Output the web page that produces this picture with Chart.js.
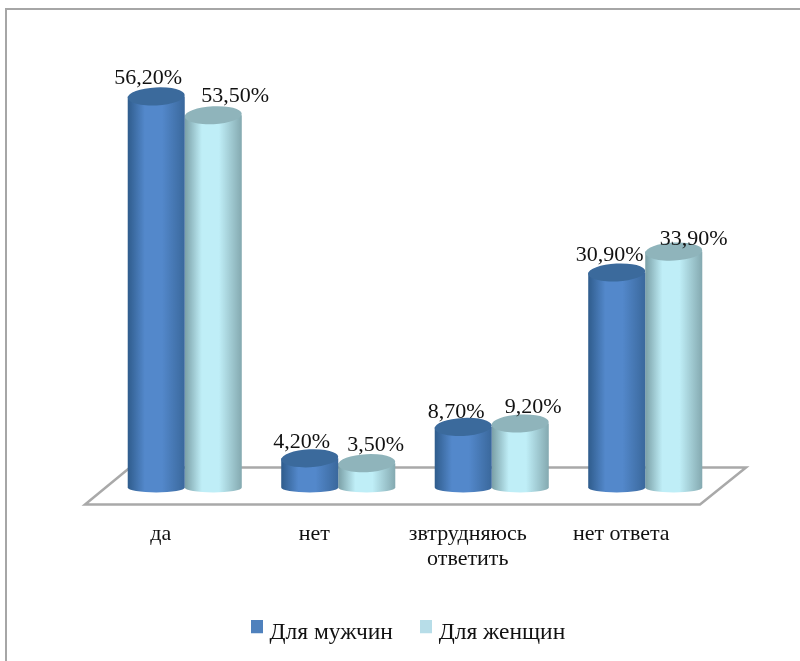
<!DOCTYPE html>
<html>
<head>
<meta charset="utf-8">
<style>
  html, body { margin: 0; padding: 0; background: #fff; }
  #wrap { width: 800px; height: 661px; position: relative; }
</style>
<script src="https://cdn.jsdelivr.net/npm/chart.js@4"></script>
</head>
<body>
<div id="wrap"><canvas id="chart" width="800" height="661"></canvas></div>
<script>
const categories = ["да", "нет", ["звтрудняюсь", "ответить"], "нет ответа"];
const men = [56.2, 4.2, 8.7, 30.9];
const women = [53.5, 3.5, 9.2, 33.9];
const seriesNames = ["Для мужчин", "Для женщин"];
const seriesColours = ["#4f81bd", "#b7dde8"];

// little nudges of the value labels, the original has them dragged by hand
const menLabelShift = [[-8, -18], [-8, -16], [-7, -15], [-7, -17]];
const womenLabelShift = [[22, -19], [9, -18], [13, -16], [20, -12]];

const fontName = "'Liberation Serif', 'Times New Roman', serif";

// colours of the cylinders: edge, middle, edge, top
const cylinderColours = [
  ["#2f5c8c", "#5388cb", "#3a689c", "#3b6a9c"],
  ["#7a9fa6", "#bfeef7", "#84a9b0", "#8fb4bb"],
];

// legend square sits higher than the text middle, so it gets its own little canvas
function legendMark(colour) {
  const c = document.createElement("canvas");
  c.width = 12;
  c.height = 26;
  const g = c.getContext("2d");
  g.fillStyle = colour;
  g.fillRect(0, 0, 12, 13);
  return c;
}
const legendMarks = seriesColours.map(legendMark);

function drawCylinder(ctx, bar, colours) {
  const left = bar.x - bar.width / 2;
  const right = bar.x + bar.width / 2;
  const rx = bar.width / 2;
  const topRy = 9;
  const bottomRy = 5;

  const grad = ctx.createLinearGradient(left, 0, right, 0);
  grad.addColorStop(0, colours[0]);
  grad.addColorStop(0.3, colours[1]);
  grad.addColorStop(0.6, colours[1]);
  grad.addColorStop(1, colours[2]);

  ctx.beginPath();
  ctx.moveTo(left, bar.y);
  ctx.lineTo(left, bar.base);
  ctx.ellipse(bar.x, bar.base, rx, bottomRy, 0, Math.PI, 0, true);
  ctx.lineTo(right, bar.y);
  ctx.closePath();
  ctx.fillStyle = grad;
  ctx.fill();

  // top of the cylinder, tilted a bit like in the original
  ctx.beginPath();
  ctx.ellipse(bar.x, bar.y, rx, topRy, -0.05, 0, Math.PI * 2);
  ctx.fillStyle = colours[3];
  ctx.fill();
}

const cylinderPlugin = {
  id: "cylinders",
  afterLayout(chart) {
    // legend sits a little left of the plot centre
    chart.legend.left -= 4.5;
    chart.legend.right -= 4.5;
  },
  beforeDraw(chart) {
    const ctx = chart.ctx;
    ctx.save();
    ctx.fillStyle = "#fff";
    ctx.fillRect(0, 0, chart.width, chart.height);
    // frame, only its top and left edges are in the picture
    ctx.strokeStyle = "#a6a6a6";
    ctx.lineWidth = 2;
    ctx.strokeRect(6, 9, 900, 800);
    ctx.restore();
  },
  beforeDatasetsDraw(chart) {
    // floor of the 3d box
    const ctx = chart.ctx;
    const area = chart.chartArea;
    ctx.save();
    ctx.strokeStyle = "#a9a9a9";
    ctx.lineWidth = 2.5;
    ctx.beginPath();
    ctx.moveTo(area.left + 22, area.bottom - 20);
    ctx.lineTo(area.right + 24, area.bottom - 20);
    ctx.lineTo(area.right - 22, area.bottom + 17);
    ctx.lineTo(area.left - 23, area.bottom + 17);
    ctx.closePath();
    ctx.stroke();
    ctx.restore();
  },
  beforeDatasetDraw(chart, args) {
    const colours = cylinderColours[args.index];
    const ctx = chart.ctx;
    ctx.save();
    ctx.filter = "blur(0.6px)";
    args.meta.data.forEach((bar) => drawCylinder(ctx, bar, colours));
    ctx.restore();
    return false; // the plain bar is not wanted
  },
  afterDatasetsDraw(chart) {
    const ctx = chart.ctx;
    const shifts = [menLabelShift, womenLabelShift];
    ctx.save();
    ctx.font = "22px " + fontName;
    ctx.fillStyle = "#111";
    ctx.textAlign = "center";
    ctx.textBaseline = "middle";
    chart.data.datasets.forEach((ds, i) => {
      chart.getDatasetMeta(i).data.forEach((bar, j) => {
        const label = ds.data[j].toFixed(2).replace(".", ",") + "%";
        ctx.fillText(label, bar.x + shifts[i][j][0], bar.y + shifts[i][j][1]);
      });
    });
    ctx.restore();
  },
};

new Chart(document.getElementById("chart"), {
  type: "bar",
  data: {
    labels: categories,
    datasets: [
      { label: seriesNames[0], data: men, backgroundColor: seriesColours[0] },
      { label: seriesNames[1], data: women, backgroundColor: seriesColours[1] },
    ],
  },
  plugins: [cylinderPlugin],
  options: {
    responsive: false,
    animation: false,
    layout: { padding: { left: 108, right: 78, top: 70, bottom: 6 } },
    scales: {
      y: { display: false, min: 0, max: 60 },
      x: {
        grid: { display: false },
        border: { display: false },
        afterFit(scale) { scale.height = 102; },
        ticks: {
          padding: 27,
          labelOffset: -24,
          maxRotation: 0,
          color: "#111",
          font: { family: fontName, size: 22, lineHeight: 1.1 },
        },
      },
    },
    datasets: { bar: { barPercentage: 1, categoryPercentage: 0.743 } },
    plugins: {
      tooltip: { enabled: false },
      legend: {
        position: "bottom",
        labels: {
          usePointStyle: true,
          boxWidth: 2,
          boxHeight: 13,
          padding: 32,
          color: "#111",
          font: { family: fontName, size: 23.5 },
          generateLabels(chart) {
            const items = Chart.defaults.plugins.legend.labels.generateLabels(chart);
            items.forEach((item, i) => { item.pointStyle = legendMarks[i]; });
            return items;
          },
        },
      },
    },
  },
});
</script>
</body>
</html>
